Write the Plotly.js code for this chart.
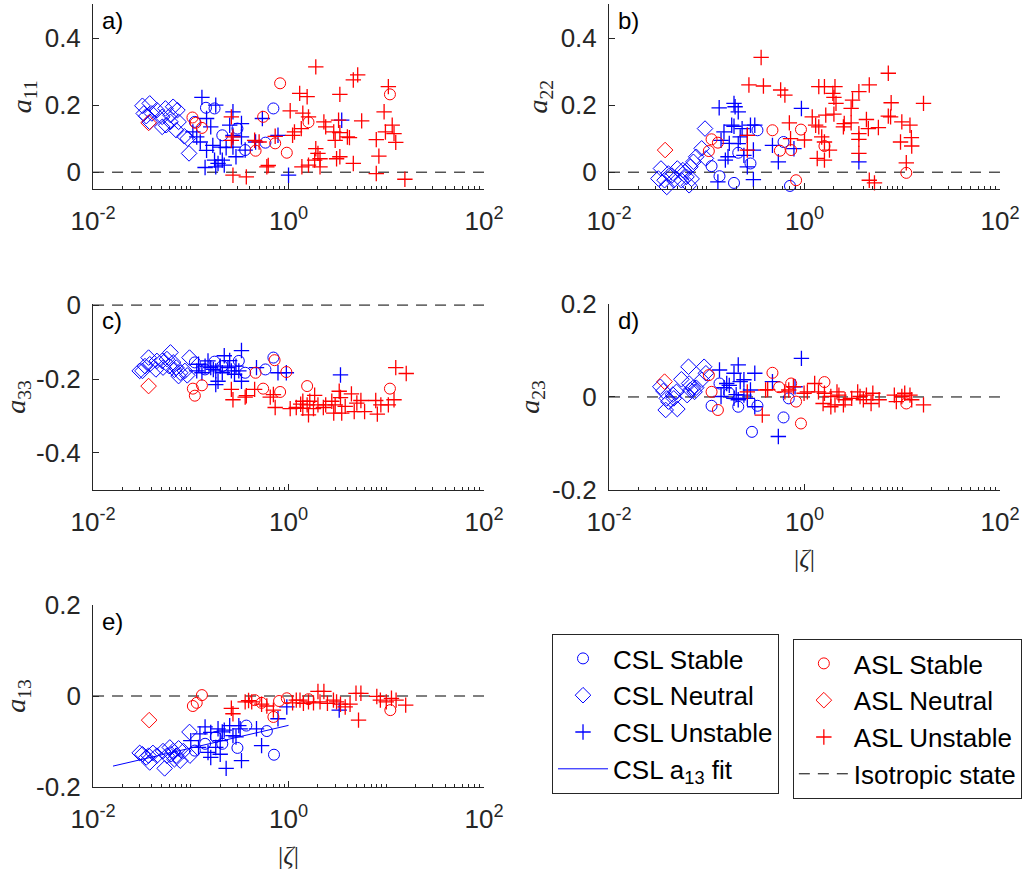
<!DOCTYPE html>
<html>
<head>
<meta charset="utf-8">
<script src="https://cdn.plot.ly/plotly-3.0.1.min.js"></script>
<style>html,body{margin:0;padding:0;background:#fff;}#chart{width:1027px;height:874px;}</style>
</head>
<body>
<div id="chart"></div>
<script>
// ---------------- DATA ----------------
// Isotropic state reference
const isoZeta = [0.01, 100];
const isoA = [0, 0];
// CSL a13 fit
const fitZeta = [0.016, 1.0];
const fitA13 = [-0.154, -0.0645];

// ---- panel a) a11 ----
const a11_cslNeutral_z = [0.032,0.038,0.045,0.055,0.066,0.073,0.035,0.040,0.051,0.062,0.038,0.051,0.062,0.075,0.056,0.071,0.086,0.093,0.096,0.033];
const a11_cslNeutral   = [0.198,0.205,0.185,0.19,0.195,0.185,0.167,0.175,0.165,0.170,0.150,0.135,0.150,0.150,0.140,0.125,0.107,0.100,0.056,0.175];
const a11_aslNeutral_z = [0.037];
const a11_aslNeutral   = [0.147];
const a11_cslStable_z = [0.143,0.175,0.11,0.21,0.30,0.36,0.58,0.70];
const a11_cslStable   = [0.192,0.19,0.150,0.11,0.13,0.066,0.088,0.19];
const a11_cslUnstable_z = [0.13,0.18,0.27,0.145,0.16,0.25,0.33,0.54,0.78,0.115,0.125,0.168,0.20,0.23,0.27,0.33,0.46,0.145,0.175,0.19,0.21,0.18,0.29,0.14,0.22,1.0,3.5,0.36,0.105,0.27];
const a11_cslUnstable   = [0.223,0.20,0.18,0.16,0.135,0.14,0.145,0.16,0.11,0.105,0.09,0.08,0.075,0.073,0.075,0.105,0.09,0.065,0.036,0.026,0.036,0.016,0.046,0.014,0.021,-0.009,0.155,0.066,0.12,0.11];
const a11_aslStable_z = [0.104,0.112,0.13,0.55,0.82,0.73,0.46,0.96,1.6,10.9];
const a11_aslStable   = [0.163,0.147,0.132,0.165,0.265,0.086,0.064,0.058,0.149,0.232];
const a11_aslUnstable_z = [1.9,4.6,5.1,10.5,1.3,1.55,3.35,1.04,1.4,1.6,2.3,2.4,3.25,5.6,9.5,11.5,9.8,12,7.9,12.5,2.9,3.0,3.35,4.0,4.2,1.15,1.35,1.1,0.45,0.5,0.73,0.26,0.27,0.26,1.9,2.0,2.1,1.85,3.1,3.35,4.6,1.6,1.37,2.1,0.6,0.62,0.27,0.37,7.9,8.4,15.5];
const a11_aslUnstable   = [0.314,0.275,0.29,0.255,0.235,0.225,0.232,0.183,0.176,0.165,0.15,0.135,0.155,0.153,0.18,0.14,0.12,0.115,0.097,0.089,0.12,0.095,0.118,0.105,0.103,0.12,0.13,0.11,0.095,0.09,0.107,0.165,0.105,0.095,0.07,0.056,0.04,0.036,0.04,0.046,0.026,0.021,0.016,0.016,0.016,0.02,-0.009,-0.014,-0.004,0.048,-0.021];

// ---- panel b) a22 ----
const a22_cslNeutral_z = [0.034,0.032,0.039,0.0405,0.037,0.046,0.050,0.055,0.060,0.066,0.062,0.068,0.073,0.078,0.0887,0.096,0.098,0.057,0.044,0.070];
const a22_cslNeutral   = [0.011,-0.019,-0.044,-0.004,-0.024,-0.024,0.011,-0.024,0.001,-0.039,-0.014,0.016,0.031,0.046,0.071,0.130,0.041,0.006,-0.01,-0.02];
const a22_aslNeutral_z = [0.0375];
const a22_aslNeutral   = [0.066];
const a22_cslStable_z = [0.112,0.135,0.19,0.21,0.28,0.33,0.61,0.71];
const a22_cslStable   = [0.018,-0.012,-0.032,0.058,0.026,0.125,0.09,-0.041];
const a22_cslUnstable_z = [0.134,0.19,0.195,0.21,0.18,0.19,0.14,0.17,0.165,0.155,0.13,0.23,0.28,0.31,0.22,0.26,0.3,0.26,0.3,0.47,0.54,0.78,0.93,3.6,0.24,0.15,0.21];
const a22_cslUnstable   = [0.192,0.205,0.195,0.18,0.14,0.137,0.095,0.086,0.046,0.036,-0.029,0.13,0.14,0.14,0.105,0.11,0.066,0.016,-0.022,0.08,0.031,0.07,0.19,0.031,0.05,0.12,0.085];
const a22_aslStable_z = [0.105,0.112,0.13,0.47,0.56,0.73,0.92,0.82,1.6,11];
const a22_aslStable   = [0.063,0.098,0.088,0.125,0.064,0.066,0.127,-0.024,0.078,-0.002];
const a22_aslUnstable_z = [0.36,0.27,0.38,0.57,0.63,0.7,0.72,1.0,1.2,1.3,1.4,1.5,1.6,1.8,1.35,1.6,1.4,1.6,2.05,1.95,2.0,2.1,2.0,1.65,3.0,3.1,3.6,4.6,2.5,2.55,3.0,3.6,3.6,3.6,4.3,4.5,5.7,2.05,4.6,5.2,7.2,7.7,7.2,7.6,9.9,12,9.6,12.4,12.5,11,16.5,0.26,0.26];
const a22_aslUnstable   = [0.342,0.26,0.257,0.245,0.23,0.147,0.1,0.096,0.165,0.14,0.135,0.105,0.09,0.066,0.041,0.036,0.255,0.255,0.255,0.235,0.223,0.205,0.173,0.17,0.19,0.215,0.24,0.26,0.135,0.145,0.147,0.115,0.098,0.056,0.157,0.13,0.133,-0.051,-0.024,-0.032,0.295,0.207,0.167,0.165,0.15,0.14,0.09,0.103,0.078,0.028,0.205,0.066,0.11];

// ---- panel c) a33 ----
const a33_cslNeutral_z = [0.032,0.037,0.038,0.045,0.051,0.052,0.062,0.066,0.060,0.071,0.078,0.087,0.097,0.075,0.030,0.044,0.057,0.092,0.034,0.068];
const a33_cslNeutral   = [-0.178,-0.142,-0.16,-0.151,-0.151,-0.169,-0.128,-0.155,-0.165,-0.169,-0.183,-0.178,-0.142,-0.192,-0.178,-0.174,-0.146,-0.19,-0.165,-0.175];
const a33_aslNeutral_z = [0.037];
const a33_aslNeutral   = [-0.219];
const a33_cslStable_z = [0.11,0.175,0.31,0.36,0.58,0.70,0.14,0.21];
const a33_cslStable   = [-0.155,-0.153,-0.151,-0.183,-0.174,-0.142,-0.174,-0.165];
const a33_cslUnstable_z = [0.33,0.22,0.15,0.16,0.17,0.18,0.2,0.21,0.24,0.26,0.28,0.31,0.115,0.13,0.18,0.19,0.33,0.47,0.78,0.95,3.4,0.14,0.29,0.25,0.12];
const a33_cslUnstable   = [-0.123,-0.137,-0.151,-0.169,-0.174,-0.178,-0.165,-0.183,-0.169,-0.178,-0.187,-0.178,-0.178,-0.183,-0.215,-0.206,-0.206,-0.169,-0.183,-0.183,-0.189,-0.165,-0.165,-0.15,-0.16];
const a33_aslStable_z = [0.105,0.11,0.13,0.46,0.55,0.72,0.82,1.55,0.95,10.9];
const a33_aslStable   = [-0.226,-0.245,-0.217,-0.183,-0.226,-0.149,-0.235,-0.219,-0.181,-0.226];
const a33_aslUnstable_z = [0.26,0.27,0.36,0.37,0.45,0.65,0.73,0.70,1.04,1.2,1.33,1.4,1.55,1.6,1.65,1.85,2.0,2.27,2.4,2.77,2.9,3.0,3.3,3.5,3.8,4.4,4.7,5.5,6.0,7.8,8.1,8.8,10.5,12,12.5,16,1.4,1.8,3.4,5.0];
const a33_aslUnstable   = [-0.228,-0.256,-0.249,-0.245,-0.228,-0.249,-0.277,-0.242,-0.28,-0.277,-0.268,-0.279,-0.27,-0.297,-0.26,-0.244,-0.27,-0.277,-0.27,-0.26,-0.292,-0.27,-0.233,-0.292,-0.274,-0.24,-0.288,-0.258,-0.288,-0.258,-0.295,-0.27,-0.27,-0.256,-0.169,-0.185,-0.26,-0.28,-0.25,-0.265];

// ---- panel d) a23 ----
const a23_cslNeutral_z = [0.0335,0.036,0.039,0.0405,0.038,0.050,0.046,0.049,0.055,0.065,0.066,0.068,0.072,0.063,0.078,0.089,0.094,0.098,0.075,0.045];
const a23_cslNeutral   = [0.022,0.013,-0.003,-0.01,-0.028,-0.026,-0.003,0.011,0.038,0.065,0.029,0.015,0.019,0.004,0.02,0.037,0.065,0.051,0.011,0.005];
const a23_aslNeutral_z = [0.037];
const a23_aslNeutral   = [0.033];
const a23_cslStable_z = [0.112,0.135,0.17,0.21,0.29,0.33,0.61,0.69];
const a23_cslStable   = [-0.019,0.029,0.008,-0.021,-0.075,-0.019,-0.044,-0.003];
const a23_cslUnstable_z = [0.135,0.19,0.21,0.31,0.24,0.16,0.17,0.14,0.19,0.21,0.24,0.26,0.31,0.47,0.54,0.8,0.93,0.28,0.22,0.2,0.15];
const a23_cslUnstable   = [0.058,0.051,0.069,0.051,0.037,0.029,0.025,0.001,-0.003,-0.006,0.004,-0.003,-0.021,0.033,-0.085,0.022,0.083,0.015,0.033,0.005,0.02];
const a23_aslStable_z = [0.105,0.112,0.13,0.47,0.55,0.73,0.82,0.92,1.6,11];
const a23_aslStable   = [0.047,0.011,-0.028,0.052,0.021,0.029,-0.01,-0.057,0.032,-0.014];
const a23_aslUnstable_z = [0.26,0.37,0.40,0.42,0.63,0.69,0.77,0.99,1.07,1.27,1.39,1.6,1.55,1.86,2.05,2.25,2.5,2.6,3.04,3.5,3.7,4.0,4.3,4.8,5.0,5.8,8.3,8.7,9.9,10.6,12,12.5,16.5,1.86,2.15];
const a23_aslUnstable   = [0.011,-0.039,0.015,0.016,0.011,0.015,0.022,0.008,0.011,0.029,0.011,0.008,-0.014,0.001,-0.017,0.004,-0.017,-0.006,-0.003,0.011,0.001,-0.006,0.004,-0.014,0.008,-0.006,0.004,-0.01,0.001,0.008,0.004,-0.006,-0.017,-0.021,0.011];

// ---- panel e) a13 ----
const a13_cslNeutral_z = [0.032,0.035,0.038,0.041,0.045,0.052,0.054,0.061,0.063,0.066,0.068,0.071,0.078,0.084,0.097,0.098,0.037,0.057,0.030,0.075];
const a13_cslNeutral   = [-0.128,-0.135,-0.146,-0.125,-0.131,-0.121,-0.159,-0.113,-0.128,-0.121,-0.139,-0.131,-0.142,-0.121,-0.079,-0.131,-0.131,-0.131,-0.125,-0.115];
const a13_aslNeutral_z = [0.0375];
const a13_aslNeutral   = [-0.053];
const a13_cslStable_z = [0.11,0.14,0.18,0.21,0.30,0.37,0.6,0.71];
const a13_cslStable   = [-0.12,-0.105,-0.09,-0.105,-0.114,-0.065,-0.077,-0.129];
const a13_cslUnstable_z = [0.10,0.124,0.14,0.19,0.2,0.25,0.31,0.32,0.27,0.29,0.16,0.15,0.2,0.23,0.33,0.53,0.47,0.78,0.96,3.3,0.12,0.18,0.21,0.16,0.22];
const a13_cslUnstable   = [-0.098,-0.083,-0.068,-0.072,-0.098,-0.065,-0.065,-0.072,-0.087,-0.09,-0.135,-0.124,-0.128,-0.159,-0.142,-0.109,-0.072,-0.05,-0.024,-0.031,-0.113,-0.113,-0.079,-0.08,-0.075];
const a13_aslStable_z = [0.105,0.115,0.13,0.45,0.53,0.7,0.8,0.96,1.6,11];
const a13_aslStable   = [-0.022,-0.015,0.002,-0.009,-0.015,-0.046,-0.011,-0.005,-0.007,-0.031];
const a13_aslUnstable_z = [0.26,0.27,0.36,0.39,0.42,0.53,0.6,0.7,1.1,1.31,1.42,1.6,1.8,2.0,2.3,2.5,3.1,3.4,3.8,4.26,4.9,5.5,5.2,8.0,8.7,10,11.3,12.6,15.8,2.1,1.2,2.88];
const a13_aslUnstable   = [-0.027,-0.039,-0.013,-0.01,-0.013,-0.018,-0.022,-0.031,-0.015,-0.009,-0.016,-0.013,-0.015,0.01,0.01,-0.016,-0.013,-0.018,-0.024,-0.018,0.006,0.006,-0.053,-0.001,-0.009,-0.013,-0.005,-0.009,-0.02,-0.013,-0.009,-0.009];

// tick labels
const xTickVals = [0.01, 1, 100];
const xTickText = ['10<sup>-2</sup>', '10<sup>0</sup>', '10<sup>2</sup>'];

// ---------------- BUILD ----------------
const BLUE = '#0000ff', RED = '#ff0000';
const MK = {
  circle: {symbol: 'circle-open', size: 11, lw: 1},
  diamond: {symbol: 'diamond-open', size: 12, lw: 1},
  plus: {symbol: 'cross-thin-open', size: 11, lw: 1.3}
};
function pts(x, y, ax, name, color, kind, leg, show, rank) {
  return {
    type: 'scatter', mode: 'markers', x: x, y: y,
    xaxis: 'x' + ax, yaxis: 'y' + ax, name: name,
    legend: leg, showlegend: show, legendrank: rank, cliponaxis: false,
    marker: {symbol: MK[kind].symbol, size: MK[kind].size, color: color,
             line: {color: color, width: MK[kind].lw}}
  };
}
const panels = [
  ['', a11_cslStable_z, a11_cslStable, a11_cslNeutral_z, a11_cslNeutral, a11_cslUnstable_z, a11_cslUnstable,
       a11_aslStable_z, a11_aslStable, a11_aslNeutral_z, a11_aslNeutral, a11_aslUnstable_z, a11_aslUnstable],
  ['2', a22_cslStable_z, a22_cslStable, a22_cslNeutral_z, a22_cslNeutral, a22_cslUnstable_z, a22_cslUnstable,
       a22_aslStable_z, a22_aslStable, a22_aslNeutral_z, a22_aslNeutral, a22_aslUnstable_z, a22_aslUnstable],
  ['3', a33_cslStable_z, a33_cslStable, a33_cslNeutral_z, a33_cslNeutral, a33_cslUnstable_z, a33_cslUnstable,
       a33_aslStable_z, a33_aslStable, a33_aslNeutral_z, a33_aslNeutral, a33_aslUnstable_z, a33_aslUnstable],
  ['4', a23_cslStable_z, a23_cslStable, a23_cslNeutral_z, a23_cslNeutral, a23_cslUnstable_z, a23_cslUnstable,
       a23_aslStable_z, a23_aslStable, a23_aslNeutral_z, a23_aslNeutral, a23_aslUnstable_z, a23_aslUnstable],
  ['5', a13_cslStable_z, a13_cslStable, a13_cslNeutral_z, a13_cslNeutral, a13_cslUnstable_z, a13_cslUnstable,
       a13_aslStable_z, a13_aslStable, a13_aslNeutral_z, a13_aslNeutral, a13_aslUnstable_z, a13_aslUnstable]
];
const traces = [];
panels.forEach((p, i) => {
  const ax = p[0];
  const first = (i === 0);
  traces.push({type: 'scatter', mode: 'lines', x: isoZeta, y: isoA, xaxis: 'x' + ax, yaxis: 'y' + ax,
    name: 'Isotropic state', legend: 'legend2', showlegend: first, legendrank: 4,
    line: {color: '#000000', width: 1, dash: '11px,8px'}, hoverinfo: 'skip'});
  traces.push(pts(p[1], p[2], ax, 'CSL Stable', BLUE, 'circle', 'legend', first, 1));
  traces.push(pts(p[3], p[4], ax, 'CSL Neutral', BLUE, 'diamond', 'legend', first, 2));
  traces.push(pts(p[5], p[6], ax, 'CSL Unstable', BLUE, 'plus', 'legend', first, 3));
  traces.push(pts(p[7], p[8], ax, 'ASL Stable', RED, 'circle', 'legend2', first, 1));
  traces.push(pts(p[9], p[10], ax, 'ASL Neutral', RED, 'diamond', 'legend2', first, 2));
  traces.push(pts(p[11], p[12], ax, 'ASL Unstable', RED, 'plus', 'legend2', first, 3));
});
traces.push({type: 'scatter', mode: 'lines', x: fitZeta, y: fitA13, xaxis: 'x5', yaxis: 'y5',
  name: 'CSL a<sub>13</sub> fit', legend: 'legend', showlegend: true, legendrank: 4,
  line: {color: BLUE, width: 1}});

// minor ticks on the log axis
const minorVals = [];
for (let n = -2; n <= 1; n++) for (let k = 1; k <= 9; k++) { const v = k * Math.pow(10, n); if (!(k === 1 && n % 2 === 0)) minorVals.push(v); }

const AXC = '#262626';
const TICKFONT = {family: 'Liberation Sans, Arial, sans-serif', size: 26, color: AXC};
const XTITLEFONT = {family: 'Liberation Serif, DejaVu Serif, serif', size: 26, color: AXC};
const YTITLEFONT = {family: 'Liberation Serif, DejaVu Serif, serif', size: 28, color: AXC};
const LEFT = [0.0906, 0.4713], RIGHT = [0.593, 0.9737];
function xax(dom, anchor, title) {
  const o = {type: 'log', range: [-2, 2], domain: dom, anchor: anchor,
    showline: true, linecolor: AXC, linewidth: 1, mirror: false,
    ticks: 'inside', ticklen: 6, tickcolor: AXC, tickwidth: 1,
    tickmode: 'array', tickvals: xTickVals, ticktext: xTickText,
    tickfont: TICKFONT, ticklabelstandoff: 9,
    showgrid: false, zeroline: false,
    minor: {tickmode: 'array', tickvals: minorVals, ticks: 'inside', ticklen: 3, tickcolor: AXC, tickwidth: 1, showgrid: false}};
  if (title) o.title = {text: title, font: XTITLEFONT, standoff: 12};
  return o;
}
function yax(dom, anchor, range, vals, texts, title) {
  return {domain: dom, anchor: anchor, range: range,
    showline: true, linecolor: AXC, linewidth: 1, mirror: false,
    ticks: 'inside', ticklen: 6, tickcolor: AXC, tickwidth: 1,
    tickmode: 'array', tickvals: vals, ticktext: texts,
    tickfont: TICKFONT, ticklabelstandoff: 6,
    showgrid: false, zeroline: false,
    title: {text: title, font: YTITLEFONT, standoff: 4}};
}
const ROW1 = [0.7838, 0.9949], ROW2 = [0.4394, 0.6522], ROW3 = [0.0995, 0.3078];
const zetaTitle = '|<i>ζ</i>|';
const LEGFONT = {family: 'Liberation Sans, Arial, sans-serif', size: 26, color: '#000'};
const layout = {
  width: 1027, height: 874,
  margin: {l: 0, r: 0, t: 0, b: 0},
  paper_bgcolor: '#ffffff', plot_bgcolor: '#ffffff',
  font: {family: 'Liberation Sans, Arial, sans-serif', color: '#000'},
  xaxis:  xax(LEFT, 'y'),
  yaxis:  yax(ROW1, 'x', [-0.05, 0.5], [0, 0.2, 0.4], ['0', '0.2', '0.4'], '<i>a</i><sub>11</sub>'),
  xaxis2: xax(RIGHT, 'y2'),
  yaxis2: yax(ROW1, 'x2', [-0.05, 0.5], [0, 0.2, 0.4], ['0', '0.2', '0.4'], '<i>a</i><sub>22</sub>'),
  xaxis3: xax(LEFT, 'y3'),
  yaxis3: yax(ROW2, 'x3', [-0.5, 0.003], [-0.4, -0.2, 0], ['-0.4', '-0.2', '0'], '<i>a</i><sub>33</sub>'),
  xaxis4: xax(RIGHT, 'y4', zetaTitle),
  yaxis4: yax(ROW2, 'x4', [-0.2, 0.2], [-0.2, 0, 0.2], ['-0.2', '0', '0.2'], '<i>a</i><sub>23</sub>'),
  xaxis5: xax(LEFT, 'y5', zetaTitle),
  yaxis5: yax(ROW3, 'x5', [-0.2, 0.2], [-0.2, 0, 0.2], ['-0.2', '0', '0.2'], '<i>a</i><sub>13</sub>'),
  legend: {x: 0.5375, y: 0.2746, xanchor: 'left', yanchor: 'top', bgcolor: '#fff',
    bordercolor: '#262626', borderwidth: 1, font: LEGFONT, itemwidth: 50,
    traceorder: 'normal', itemclick: false},
  legend2: {x: 0.772, y: 0.2689, xanchor: 'left', yanchor: 'top', bgcolor: '#fff',
    bordercolor: '#262626', borderwidth: 1, font: LEGFONT, itemwidth: 50,
    traceorder: 'normal', itemclick: false},
  annotations: [['', 'a)'], ['2', 'b)'], ['3', 'c)'], ['4', 'd)'], ['5', 'e)']].map(a => ({
    xref: 'x' + a[0] + ' domain', yref: 'y' + a[0] + ' domain', x: 0.018, y: 0.995,
    xanchor: 'left', yanchor: 'top', showarrow: false, text: a[1],
    font: {family: 'Liberation Sans, Arial, sans-serif', size: 24, color: '#000'}}))
};
Plotly.newPlot('chart', traces, layout, {staticPlot: true, displayModeBar: false});
</script>
</body>
</html>
